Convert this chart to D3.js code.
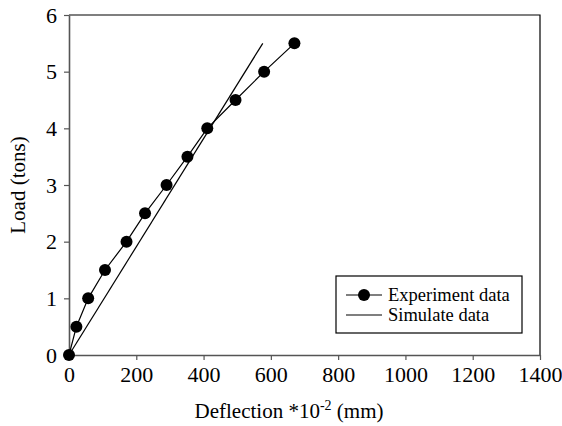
<!DOCTYPE html>
<html>
<head>
<meta charset="utf-8">
<script src="https://cdn.jsdelivr.net/npm/d3@7"></script>
<style>
	body { margin: 0; background: #fff; }
	svg text { font-family: "Liberation Serif", "Times New Roman", serif; fill: #000; }
	.axis text { font-size: 22px; }
</style>
</head>
<body>
<div id="chart"></div>
<script>
// experiment data (deflection *10^-2 mm, load tons)
const expDeflection = [0, 22, 57, 107, 171, 226, 290, 352, 411, 495, 580, 670];
const expLoad = [0, 0.5, 1, 1.5, 2, 2.5, 3, 3.5, 4, 4.5, 5, 5.5];
// simulate data, straight line
const simDeflection = [0, 576];
const simLoad = [0, 5.5];

const xTicks = [0, 200, 400, 600, 800, 1000, 1200, 1400];
const yTicks = [0, 1, 2, 3, 4, 5, 6];

const width = 562;
const height = 426;
const margin = { top: 15, right: 22, bottom: 71, left: 69 };

const svg = d3.select('#chart').append('svg')
	.attr('width', width)
	.attr('height', height);

const x = d3.scaleLinear()
	.domain([0, 1400])
	.range([margin.left, width - margin.right]);

const y = d3.scaleLinear()
	.domain([0, 6])
	.range([height - margin.bottom, margin.top]);

// frame top / right
svg.append('path')
	.attr('d', 'M' + x(0) + ',' + y(6) + 'H' + x(1400) + 'V' + y(0))
	.attr('fill', 'none')
	.attr('stroke', '#000')
	.attr('stroke-width', 1.2);

const xAxis = svg.append('g')
	.attr('class', 'axis')
	.attr('transform', 'translate(0,' + y(0) + ')')
	.call(d3.axisBottom(x).tickValues(xTicks).tickFormat(d3.format('d'))
		.tickSize(5).tickPadding(6).tickSizeOuter(0));

const yAxis = svg.append('g')
	.attr('class', 'axis')
	.attr('transform', 'translate(' + x(0) + ',0)')
	.call(d3.axisLeft(y).tickValues(yTicks).tickFormat(d3.format('d'))
		.tickSize(5).tickPadding(7).tickSizeOuter(0));

svg.selectAll('.axis').attr('font-family', null).attr('font-size', null);
svg.selectAll('.axis .domain').attr('stroke', '#555').attr('stroke-width', 1.6);
svg.selectAll('.axis .tick line').attr('stroke', '#555').attr('stroke-width', 1.2);

// axis titles
const xTitle = svg.append('text')
	.attr('x', 289)
	.attr('y', 418)
	.attr('text-anchor', 'middle')
	.style('font-size', '21px');
xTitle.append('tspan').text('Deflection *10');
xTitle.append('tspan').attr('dy', -8).style('font-size', '14px').text('-2');
xTitle.append('tspan').attr('dy', 8).text(' (mm)');

svg.append('text')
	.attr('transform', 'translate(25,' + ((y(0) + y(6)) / 2) + ') rotate(-90)')
	.attr('text-anchor', 'middle')
	.style('font-size', '21px')
	.text('Load (tons)');

// simulate line
const sim = simDeflection.map(function(d, i) { return [d, simLoad[i]]; });
const exp = expDeflection.map(function(d, i) { return [d, expLoad[i]]; });
const line = d3.line()
	.x(function(d) { return x(d[0]); })
	.y(function(d) { return y(d[1]); });

svg.append('path')
	.datum(sim)
	.attr('d', line)
	.attr('fill', 'none')
	.attr('stroke', '#000')
	.attr('stroke-width', 1.2);

svg.append('path')
	.datum(exp)
	.attr('d', line)
	.attr('fill', 'none')
	.attr('stroke', '#000')
	.attr('stroke-width', 1.2);

svg.selectAll('.dot')
	.data(exp)
	.enter().append('circle')
	.attr('class', 'dot')
	.attr('cx', function(d) { return x(d[0]); })
	.attr('cy', function(d) { return y(d[1]); })
	.attr('r', 6)
	.attr('fill', '#000');

// legend
const legend = svg.append('g').attr('transform', 'translate(336,276)');
legend.append('rect')
	.attr('width', 186)
	.attr('height', 57)
	.attr('fill', '#fff')
	.attr('stroke', '#000')
	.attr('stroke-width', 1.2);

legend.append('line')
	.attr('x1', 10).attr('x2', 46).attr('y1', 19).attr('y2', 19)
	.attr('stroke', '#000').attr('stroke-width', 1.2);
legend.append('circle')
	.attr('cx', 28).attr('cy', 19).attr('r', 6).attr('fill', '#000');
legend.append('text')
	.attr('x', 52).attr('y', 25)
	.style('font-size', '18.5px')
	.text('Experiment data');

legend.append('line')
	.attr('x1', 10).attr('x2', 46).attr('y1', 39).attr('y2', 39)
	.attr('stroke', '#000').attr('stroke-width', 1.2);
legend.append('text')
	.attr('x', 52).attr('y', 45)
	.style('font-size', '18.5px')
	.text('Simulate data');
</script>
</body>
</html>
